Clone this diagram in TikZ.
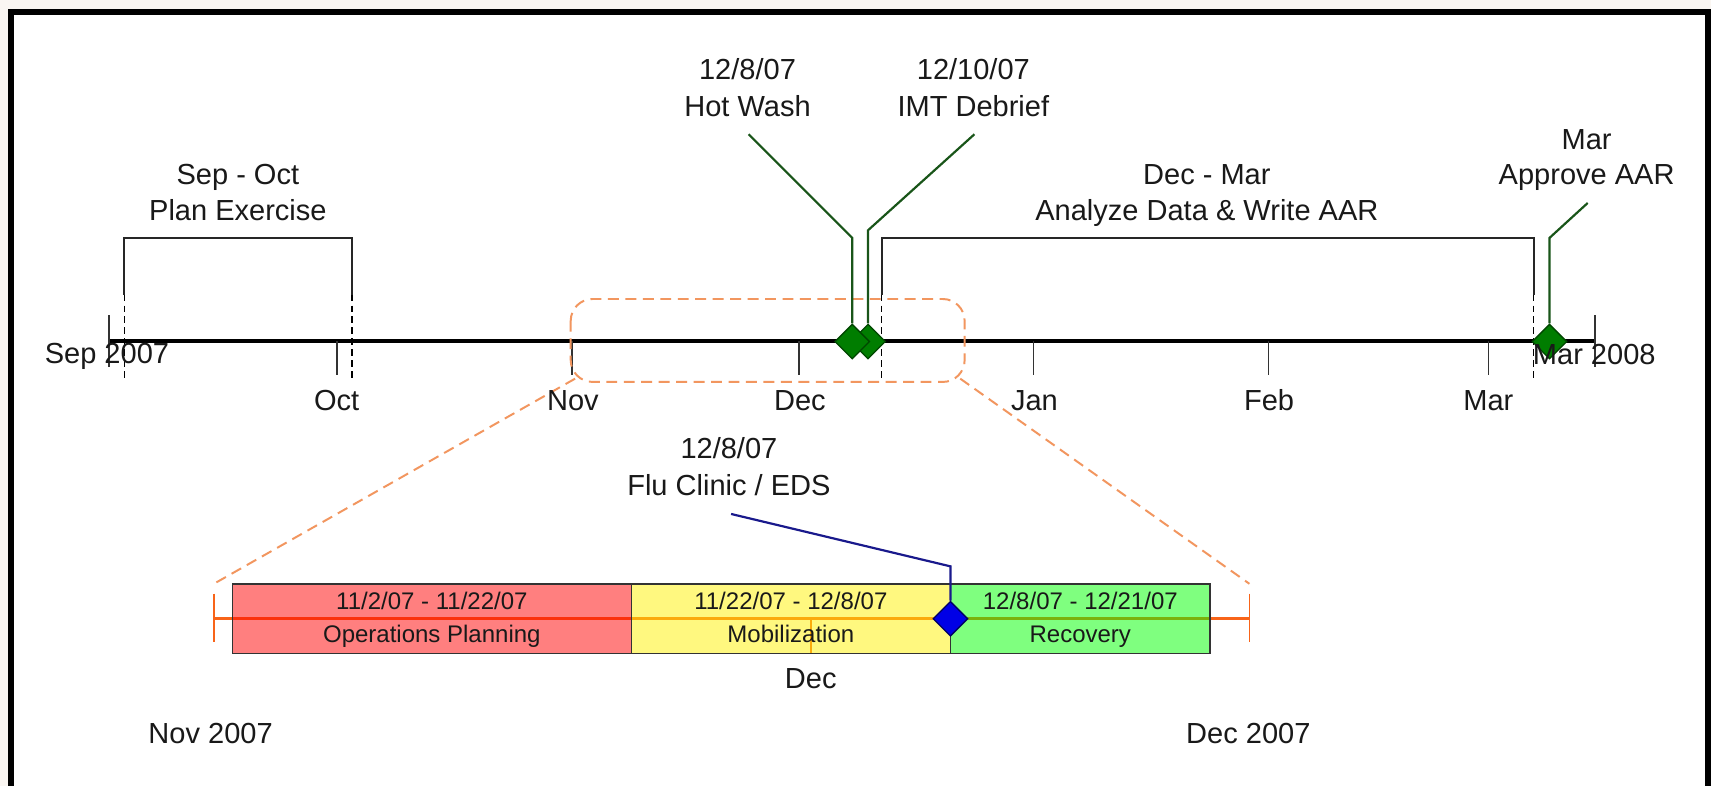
\documentclass[tikz,border=0pt]{standalone}
\usepackage{fontspec}
\setmainfont{Liberation Sans}
\usetikzlibrary{shapes.geometric}
\definecolor{outbg}{RGB}{250,246,242}
\definecolor{txt}{RGB}{25,25,25}
\definecolor{dgreen}{RGB}{0,125,0}
\definecolor{dgreenb}{RGB}{0,70,0}
\definecolor{gleadc}{RGB}{25,85,25}
\definecolor{bblue}{RGB}{0,0,230}
\definecolor{bblueb}{RGB}{0,0,100}
\definecolor{bleadc}{RGB}{25,25,140}
\definecolor{zorange}{RGB}{242,150,95}
\definecolor{lorange}{RGB}{248,100,25}
\begin{document}
\begin{tikzpicture}[x=0.5pt,y=-0.5pt,
  frame/.style={line width=2.6pt,black,line join=miter},
  mainline/.style={line width=2.1pt,black},
  tickmark/.style={line width=0.8pt,black!80},
  bracket/.style={line width=1pt,black!85},
  dashv/.style={line width=0.7pt,black,dash pattern=on 3pt off 2pt},
  zoomline/.style={line width=0.9pt,zorange,dash pattern=on 5pt off 3pt},
  gdiam/.style={diamond,aspect=1,minimum size=16pt,inner sep=0pt,fill=dgreen,draw=dgreenb,line width=0.6pt},
  bdiam/.style={diamond,aspect=1,minimum size=16pt,inner sep=0pt,fill=bblue,draw=bblueb,line width=0.6pt},
  gleader/.style={line width=1pt,gleadc},
  bleader/.style={line width=1pt,bleadc},
  lbl/.style={font=\fontsize{13.3}{15}\selectfont,text=txt,inner sep=0pt,anchor=base},
  sm/.style={font=\fontsize{11}{13}\selectfont,text=txt,inner sep=0pt,anchor=base},
  lowline/.style={line width=1.6pt,lorange},
  lowtick/.style={line width=0.7pt,lorange},
  phase/.style={draw=black!80,line width=0.7pt,fill opacity=0.5,inner sep=0pt,minimum height=32pt}
]
\useasboundingbox (0,0) rectangle (1568,720);
\fill[outbg] (0,0) rectangle (1568,720);
\fill[white] (10,11) rectangle (1565,720);
\draw[frame] (10,724) -- (10,11) -- (1565,11) -- (1565,724);

% main timeline
\draw[mainline] (100,312.5) -- (1462,312.5);
\draw[tickmark] (100,289) -- (100,336);
\draw[tickmark] (1462,289) -- (1462,336);
\foreach \mx in {308.5,524,732.5,947,1162.5,1364}
  \draw[tickmark] (\mx,312.5) -- (\mx,344);

% brackets
\draw[bracket] (114,270) -- (114,218) -- (322.5,218) -- (322.5,270);
\draw[dashv] (114,270) -- (114,346);
\draw[dashv] (322.5,270) -- (322.5,346);
\draw[bracket] (808,270) -- (808,218) -- (1405.5,218) -- (1405.5,270);
\draw[dashv] (808,270) -- (808,346);
\draw[dashv] (1405.5,270) -- (1405.5,346);

% zoom region
\draw[zoomline,rounded corners=10pt] (523,274) rectangle (884,350);
\coordinate (zl) at (527,347);
\coordinate (zr) at (880,347);
\coordinate (ll) at (196,535);
\coordinate (lr) at (1145,535);
\draw[zoomline] (zl) -- (ll);
\draw[zoomline] (zr) -- (lr);

% milestones (upper)
\coordinate (imtb) at (795.5,211);
\coordinate (imte) at (893,123);
\coordinate (hwb) at (781,218);
\coordinate (hwe) at (686,123);
\coordinate (aarb) at (1420,218);
\coordinate (aare) at (1455,186);
\node[gdiam] (imt) at (795.5,313) {};
\node[gdiam] (hw) at (781,313) {};
\node[gdiam] (aar) at (1420,313) {};
\draw[gleader] (imt.north) -- (imtb) -- (imte);
\draw[gleader] (hw.north) -- (hwb) -- (hwe);
\draw[gleader] (aar.north) -- (aarb) -- (aare);

% upper labels
\node[lbl] (hwd) at (685,72.8) {12/8/07};
\node[lbl] (hwt) at (685,106.3) {Hot Wash};
\node[lbl] (imtd) at (892,72.8) {12/10/07};
\node[lbl] (imtt) at (892,106.3) {IMT Debrief};
\node[lbl] (sod) at (218,169.3) {Sep - Oct};
\node[lbl] (sot) at (218,202.3) {Plan Exercise};
\node[lbl] (dmd) at (1106,169.3) {Dec - Mar};
\node[lbl] (dmt) at (1106,202.3) {Analyze Data \& Write AAR};
\node[lbl] (aard) at (1454,137.3) {Mar};
\node[lbl] (aart) at (1454,169.3) {Approve AAR};
\node[lbl] (sep07) at (98,333.3) {Sep 2007};
\node[lbl] (mar08) at (1461,334.3) {Mar 2008};
\node[lbl] (moct) at (308.5,376.3) {Oct};
\node[lbl] (mnov) at (525,376.3) {Nov};
\node[lbl] (mdec) at (733,376.3) {Dec};
\node[lbl] (mjan) at (948,376.3) {Jan};
\node[lbl] (mfeb) at (1163,376.3) {Feb};
\node[lbl] (mmar) at (1364,376.3) {Mar};

% lower timeline
\draw[lowline] (196,567) -- (1145,567);
\draw[lowtick] (196,544) -- (196,588);
\draw[lowtick] (1145,544) -- (1145,588);
\draw[lowtick] (743,567) -- (743,599);
\node[phase,fill=red,minimum width=182.75pt] (op) at (395.75,567) {};
\node[phase,fill=yellow,minimum width=146.25pt] (mob) at (724.75,567) {};
\node[phase,fill=green,minimum width=119pt] (rec) at (990,567) {};
\node[sm] (opd) at (395.75,558.9) {11/2/07 - 11/22/07};
\node[sm] (opt) at (395.75,588.9) {Operations Planning};
\node[sm] (mobd) at (724.75,558.9) {11/22/07 - 12/8/07};
\node[sm] (mobt) at (724.75,588.9) {Mobilization};
\node[sm] (recd) at (990,558.9) {12/8/07 - 12/21/07};
\node[sm] (rect) at (990,588.9) {Recovery};

\coordinate (flub) at (871,519);
\coordinate (flue) at (670,471);
\node[bdiam] (flu) at (871,567) {};
\draw[bleader] (flu.north) -- (flub) -- (flue);
\node[lbl] (flud) at (668,420.3) {12/8/07};
\node[lbl] (flut) at (668,454.3) {Flu Clinic / EDS};

\node[lbl] (ldec) at (743,631.3) {Dec};
\node[lbl] (nov07) at (193,681.3) {Nov 2007};
\node[lbl] (dec07) at (1144,681.3) {Dec 2007};
\end{tikzpicture}
\end{document}
